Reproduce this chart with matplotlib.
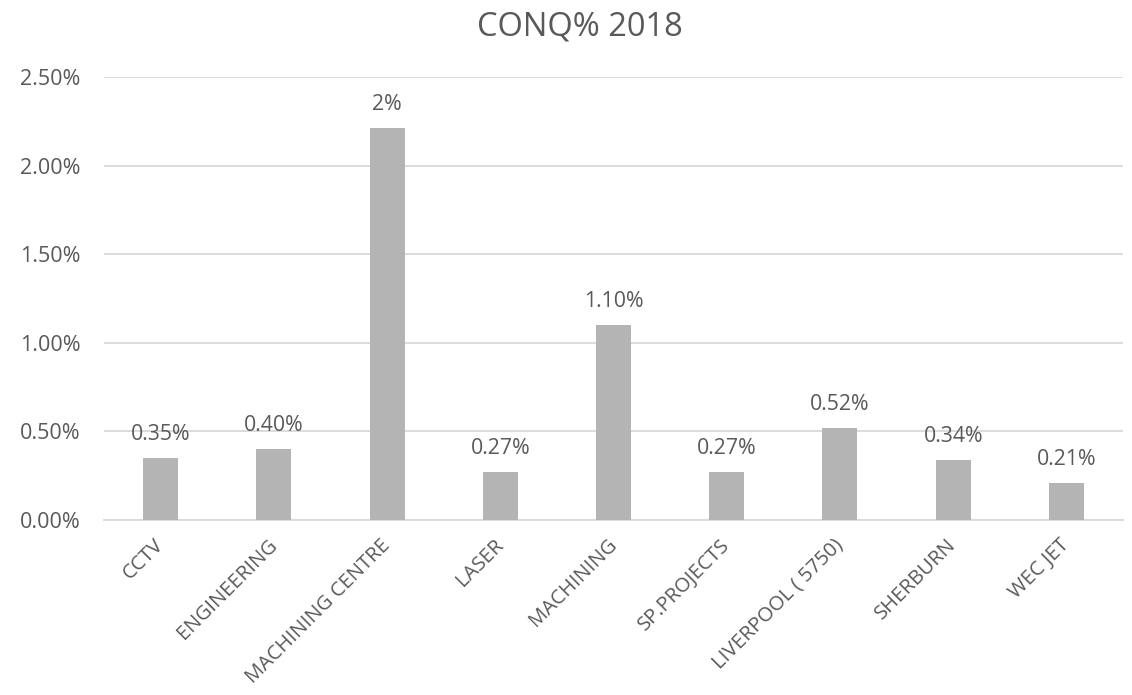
"""bar chart of CONQ% per department for 2018"""
import matplotlib
matplotlib.use('Agg')
import matplotlib.pyplot as plt
from matplotlib.ticker import PercentFormatter
from matplotlib.transforms import ScaledTranslation

# --------------------------------------------------
# chart data
# --------------------------------------------------
departments = ['CCTV', 'ENGINEERING', 'MACHINING CENTRE', 'LASER', 'MACHINING',
               'SP.PROJECTS', 'LIVERPOOL ( 5750)', 'SHERBURN', 'WEC JET']
conq = [0.0035, 0.0040, 0.0221, 0.0027, 0.0110, 0.0027, 0.0052, 0.0034, 0.0021]
label_decimals = [2, 2, 0, 2, 2, 2, 2, 2, 2]  # number format of each data label
y_ticks = [0.0, 0.005, 0.010, 0.015, 0.020, 0.025]

TEXT_COL = '#595959'
BAR_COL = '#b4b4b4'
GRID_COL = '#d9d9d9'

plt.rcParams['font.family'] = ['Open Sans', 'DejaVu Sans']

fig = plt.figure(figsize=(11.32, 6.95), dpi=100)
ax = fig.add_axes([0.092, 0.252, 0.9, 0.637])

x = range(len(departments))
bars = ax.bar(x, conq, width=0.31, color=BAR_COL, zorder=3)

# data labels above each bar
for bar, val, dec in zip(bars, conq, label_decimals):
    ax.annotate(f'{val * 100:.{dec}f}%',
                xy=(bar.get_x() + bar.get_width() / 2, val),
                xytext=(0, 13), textcoords='offset points',
                ha='center', va='baseline', fontsize=15.3, color=TEXT_COL)

ax.set_xlim(-0.5, len(departments) - 0.5)
ax.set_ylim(0, 0.025)
ax.set_yticks(y_ticks)
ax.yaxis.set_major_formatter(PercentFormatter(xmax=1, decimals=2))
ax.set_xticks(list(x))
ax.set_xticklabels(departments, rotation=45, ha='right', rotation_mode='anchor')

ax.grid(axis='y', color=GRID_COL, linewidth=1.3, zorder=0)
for side in ['top', 'right', 'left']:
    ax.spines[side].set_visible(False)
ax.spines['bottom'].set_color(GRID_COL)
ax.spines['bottom'].set_linewidth(1.3)
ax.tick_params(axis='y', length=0, pad=17, labelsize=15.5, labelcolor=TEXT_COL)
ax.tick_params(axis='x', length=0, pad=11, labelsize=14.6, labelcolor=TEXT_COL)

# nudge rotated category labels so their ends sit under the bar centres
shift = ScaledTranslation(-5 / 72, 0, fig.dpi_scale_trans)
for lbl in ax.get_xticklabels():
    lbl.set_transform(lbl.get_transform() + shift)

fig.text(0.512, 0.961, 'CONQ% 2018', ha='center', va='center',
         fontsize=23.5, color=TEXT_COL)

fig.savefig('out.png', dpi=100)
